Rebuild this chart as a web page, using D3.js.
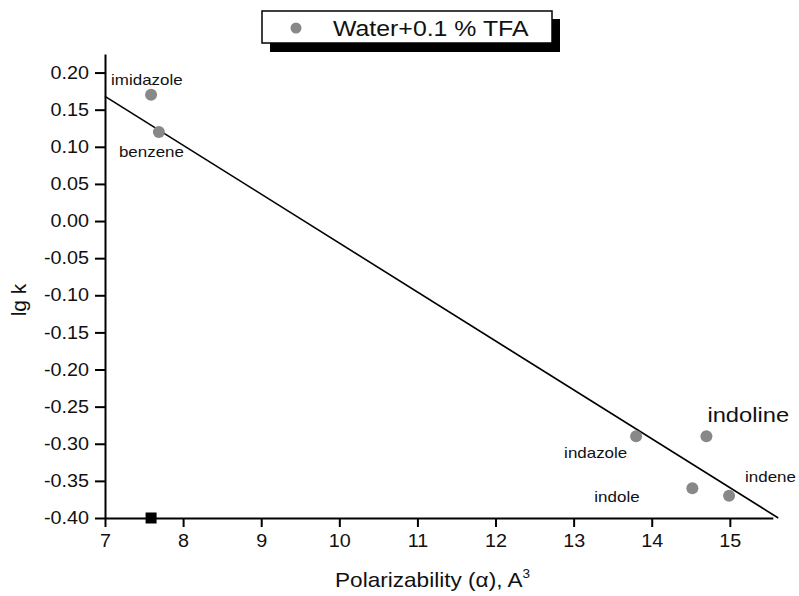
<!DOCTYPE html>
<html><head><meta charset="utf-8">
<script src="https://cdn.jsdelivr.net/npm/d3@7"></script>
<style>
body{margin:0;background:#fff}
text{font-family:"Liberation Sans",Arial,Helvetica,sans-serif;fill:#111}
</style>
</head><body>
<svg id="chart" width="799" height="596"></svg>
<script>
// ---- data ----
const compounds = ["imidazole", "benzene", "indazole", "indoline", "indole", "indene"];
const polarizability = [7.59, 7.69, 13.80, 14.70, 14.52, 14.99];
const lgK = [0.170, 0.120, -0.290, -0.290, -0.360, -0.370];
const fitX = [7.0, 15.62];
const fitY = [0.168, -0.400];
const markerX = [7.59];
const markerY = [-0.40];
const xTicks = [7, 8, 9, 10, 11, 12, 13, 14, 15];
const yTicks = [-0.40, -0.35, -0.30, -0.25, -0.20, -0.15, -0.10, -0.05, 0.00, 0.05, 0.10, 0.15, 0.20];
const legendLabel = "Water+0.1 % TFA";
const xTitle = "Polarizability (\u03B1), A";
const yTitle = "lg k";

// ---- label layout (styling, px offsets from each point) ----
const labelLayout = {
  imidazole: {dx: -40, dy: -10, size: 15},
  benzene:   {dx: -40, dy: 25,  size: 15},
  indazole:  {dx: -72, dy: 22,  size: 15},
  indoline:  {dx: 1,   dy: -14, size: 21},
  indole:    {dx: -98, dy: 14,  size: 15},
  indene:    {dx: 16,  dy: -14, size: 15}
};
const SX = 1.13; // horizontal text stretch seen in the reference

const svg = d3.select("#chart");
const x = d3.scaleLinear().domain([7, 15.55]).range([105, 772.8]);
const y = d3.scaleLinear().domain([-0.40, 0.225]).range([518, 54]);

// axes
const fmt = v => d3.format(".2f")(v).replace("\u2212", "-");
const yAxis = svg.append("g").attr("transform", `translate(${x(7)},0)`)
  .call(d3.axisLeft(y).tickValues(yTicks).tickFormat(fmt).tickSize(10).tickSizeOuter(0).tickPadding(6));
const xAxis = svg.append("g").attr("transform", `translate(0,${y(-0.40)})`)
  .call(d3.axisBottom(x).tickValues(xTicks).tickFormat(d3.format("d")).tickSize(9).tickSizeOuter(0).tickPadding(4));
[yAxis, xAxis].forEach(g => {
  g.selectAll("path.domain").attr("stroke", "#000").attr("stroke-width", 2);
  g.selectAll(".tick line").attr("stroke", "#000").attr("stroke-width", 2);
  g.selectAll(".tick text").attr("font-size", 17.5).attr("fill", "#111")
    .style("font-family", '"Liberation Sans",Arial,sans-serif');
});
yAxis.selectAll(".tick text").attr("x", -16 / SX).attr("transform", `scale(${SX},1)`);
xAxis.selectAll(".tick text").attr("transform", `scale(${SX},1)`).attr("dy", "0.9em");

// fit line
const fit = fitX.map((v, i) => [v, fitY[i]]);
svg.append("path").datum(fit)
  .attr("d", d3.line().x(d => x(d[0])).y(d => y(d[1])))
  .attr("stroke", "#000").attr("stroke-width", 1.6).attr("fill", "none");

// points
const pts = compounds.map((c, i) => ({name: c, px: polarizability[i], lk: lgK[i]}));
svg.append("g").selectAll("circle").data(pts).join("circle")
  .attr("cx", d => x(d.px)).attr("cy", d => y(d.lk)).attr("r", 6)
  .attr("fill", "#888");

// labels
svg.append("g").selectAll("text").data(pts).join("text")
  .attr("transform", d => `translate(${x(d.px) + labelLayout[d.name].dx},${y(d.lk) + labelLayout[d.name].dy}) scale(${SX},1)`)
  .attr("font-size", d => labelLayout[d.name].size)
  .text(d => d.name);

// black square marker
svg.append("g").selectAll("rect").data(markerX.map((v, i) => [v, markerY[i]])).join("rect")
  .attr("x", d => x(d[0]) - 5.5).attr("y", d => y(d[1]) - 5.5)
  .attr("width", 11).attr("height", 11).attr("fill", "#000");

// axis titles
const xt = svg.append("text").attr("transform", `translate(335,587) scale(${SX},1)`).attr("font-size", 20);
xt.append("tspan").text(xTitle);
xt.append("tspan").attr("dy", -9).attr("font-size", 12).text("3");
svg.append("text").attr("transform", "translate(26,300) rotate(-90)")
  .attr("text-anchor", "middle").attr("font-size", 21).text(yTitle);

// legend
const lg = svg.append("g");
lg.append("rect").attr("x", 270).attr("y", 19).attr("width", 290).attr("height", 33).attr("fill", "#000");
lg.append("rect").attr("x", 262).attr("y", 11).attr("width", 290).attr("height", 32)
  .attr("fill", "#fff").attr("stroke", "#000").attr("stroke-width", 1.5);
lg.append("circle").attr("cx", 296).attr("cy", 28).attr("r", 5.5).attr("fill", "#888");
lg.append("text").attr("transform", `translate(333,36) scale(${SX},1)`).attr("font-size", 22).text(legendLabel);
</script>
</body></html>
